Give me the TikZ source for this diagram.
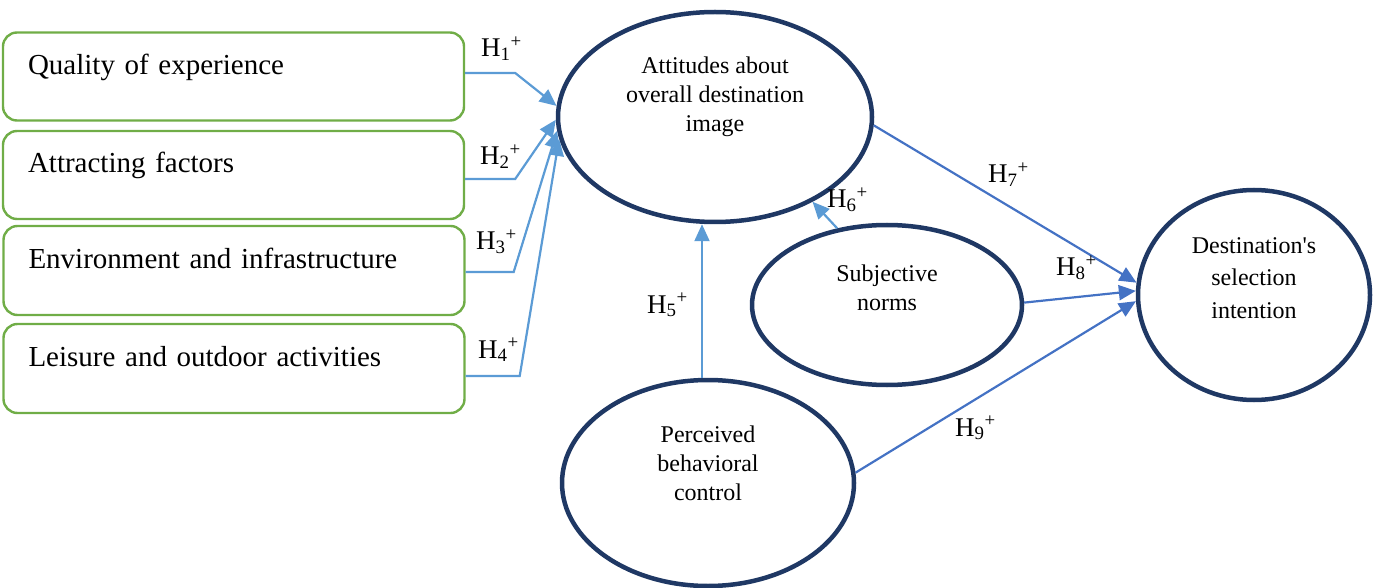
\documentclass[tikz,border=0pt]{standalone}
\usepackage{fontspec}
\setmainfont{Liberation Serif}
\usetikzlibrary{arrows.meta,shapes.geometric}
\definecolor{navycol}{RGB}{31,56,100}
\definecolor{greencol}{RGB}{112,173,71}
\definecolor{lightcol}{RGB}{91,155,213}
\definecolor{darkcol}{RGB}{68,114,196}
\newcommand{\hyp}[1]{H\textsubscript{#1}\textsuperscript{+}}

\begin{document}
\begin{tikzpicture}[x=1pt,y=-1pt,>={Triangle[length=17pt,width=15pt]},
  factor/.style={draw=greencol,line width=2.4pt,rounded corners=14pt,minimum width=461pt,
    inner xsep=25pt,inner ysep=0pt,text width=411pt,align=left,text height=20pt,text depth=24pt,
    font=\fontsize{29}{34}\selectfont},
  construct/.style={ellipse,draw=navycol,line width=4.5pt,inner sep=0pt},
  ctext/.style={align=center,font=\fontsize{24}{29}\selectfont},
  hlab/.style={font=\fontsize{27}{30}\selectfont,anchor=base west,inner sep=0pt},
  light/.style={->,lightcol,line width=2.2pt},
  dark/.style={->,darkcol,line width=2.2pt}]
\useasboundingbox (0,0) rectangle (1387,588);
% left: the four factors
\node[factor,minimum height=88pt] (qual) at (233.5,76.5) {Quality of experience};
\node[factor,minimum height=88pt] (attr) at (233.5,175) {Attracting factors};
\node[factor,minimum height=89pt] (envi) at (234,270.5) {Environment and infrastructure};
\node[factor,minimum height=89pt] (leis) at (234,368.5) {Leisure and outdoor activities};
% constructs
\node[construct,minimum width=314pt,minimum height=210pt,
  label={[ctext,yshift=20pt]center:Attitudes about\\overall destination\\image}] (att) at (715,117) {};
\node[construct,minimum width=270pt,minimum height=160pt,
  label={[ctext,yshift=17pt]center:Subjective\\norms}] (subj) at (887,305) {};
\node[construct,minimum width=232pt,minimum height=210pt,
  label={[ctext,font=\fontsize{24}{32.5}\selectfont,yshift=17pt]center:Destination\textquotesingle s\\selection\\intention}] (dest) at (1254,295) {};
\node[construct,minimum width=292pt,minimum height=206pt,
  label={[ctext,yshift=20pt]center:Perceived\\behavioral\\control}] (perc) at (708,483) {};
% paths into attitudes
\draw[light] (qual.east |- 0,73) -- ++(50,0) -- (att.176);
\draw[light] (attr.east |- 0,179) -- ++(50,0) -- (att.181);
\draw[light] (envi.east |- 0,272) -- ++(48,0) -- (att.185);
\draw[light] (leis.east |- 0,376) -- ++(54,0) -- (att.188);
\draw[light] ([xshift=-6pt]perc.north) -- ([xshift=-6pt]perc.north |- att.south);
\draw[light] (subj.123) -- (att.-41);
% paths into intention
\draw[dark] (att.-3) -- (dest.174);
\draw[dark] (subj.1) -- (dest.178);
\draw[dark] (perc.4) -- (dest.183);
% hypothesis labels
\node[hlab] (h1) at (481,57) {\hyp{1}};
\node[hlab] (h2) at (480,165) {\hyp{2}};
\node[hlab] (h3) at (476,250) {\hyp{3}};
\node[hlab] (h4) at (478,358) {\hyp{4}};
\node[hlab] (h5) at (647,313) {\hyp{5}};
\node[hlab] (h6) at (827,208) {\hyp{6}};
\node[hlab] (h7) at (988,183) {\hyp{7}};
\node[hlab] (h8) at (1056,276) {\hyp{8}};
\node[hlab] (h9) at (955,436) {\hyp{9}};
\end{tikzpicture}
\end{document}
